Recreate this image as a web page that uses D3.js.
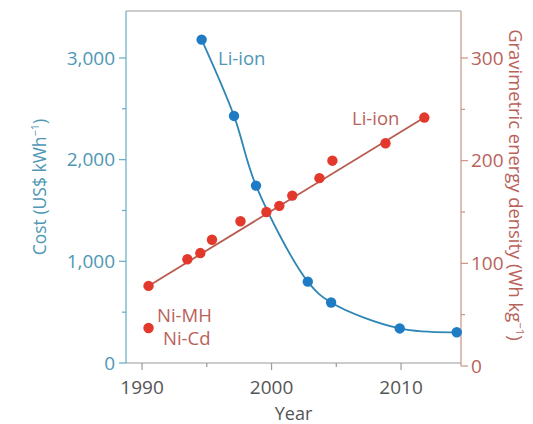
<!DOCTYPE html>
<html>
<head>
<meta charset="utf-8">
<script src="https://cdn.jsdelivr.net/npm/d3@7"></script>
<style>
  body { margin: 0; background: #fff; }
  svg text { font-family: "Open Sans", sans-serif; }
  .tick-label { font-size: 19px; }
</style>
</head>
<body>
<div id="chart"></div>
<script>

  // Li-ion cost (left axis, US$ per kWh)
  var costYears = [1994.6, 1997.1, 1998.8, 2002.8, 2004.6, 2009.9, 2014.3];
  var costValues = [3180, 2430, 1745, 800, 595, 340, 302];

  // Li-ion gravimetric energy density (right axis, Wh per kg)
  var densityYears = [1990.5, 1993.5, 1994.5, 1995.4, 1997.6, 1999.6, 2000.6, 2001.6, 2003.7, 2004.7, 2008.8, 2011.8];
  var densityValues = [78, 104, 110, 123, 141, 150, 156, 166, 183, 200, 217, 242];

  // Ni-MH / Ni-Cd point
  var nickelYears = [1990.5];
  var nickelValues = [37];

  var xTicks = [1990, 2000, 2010];
  var xMinorTicks = [1995, 2005];
  var leftTicks = [0, 1000, 2000, 3000];
  var leftMinorTicks = [500, 1500, 2500];
  var rightTicks = [0, 100, 200, 300];
  var rightMinorTicks = [50, 150, 250];

  var width = 533, height = 424;
  var plotL = 126, plotR = 461, plotT = 11, plotB = 363;

  var blue = "#1f7cc4", blueLine = "#2e86b5", blueText = "#4e97b5", blueAxis = "#63abc4";
  var red = "#e2392c", redLine = "#b85b50", redText = "#b9625a", redAxis = "#c99282";
  var grey = "#555", frame = "#9a9a9a";

  var x = d3.scaleLinear().domain([1988.76, 2014.63]).range([plotL, plotR]);
  var yLeft = d3.scaleLinear().domain([0, 3462]).range([plotB, plotT]);
  var yRight = d3.scaleLinear().domain([0, 345.8]).range([366, plotT]);

  var svg = d3.select("#chart").append("svg")
    .attr("width", width)
    .attr("height", height);

  // frame top
  svg.append("line")
    .attr("x1", plotL).attr("x2", plotR).attr("y1", plotT).attr("y2", plotT)
    .attr("stroke", frame).attr("stroke-width", 1.2);

  // bottom axis
  var gx = svg.append("g").attr("transform", "translate(0," + plotB + ")");
  gx.append("line").attr("x1", plotL).attr("x2", plotR)
    .attr("stroke", frame).attr("stroke-width", 1.2);
  gx.selectAll(".maj").data(xTicks).enter().append("line")
    .attr("x1", function (d) { return x(d); }).attr("x2", function (d) { return x(d); })
    .attr("y1", 0).attr("y2", 7)
    .attr("stroke", frame).attr("stroke-width", 1.2);
  gx.selectAll(".min").data(xMinorTicks).enter().append("line")
    .attr("x1", function (d) { return x(d); }).attr("x2", function (d) { return x(d); })
    .attr("y1", 0).attr("y2", 4)
    .attr("stroke", frame).attr("stroke-width", 1.2);
  gx.selectAll("text").data(xTicks).enter().append("text")
    .attr("class", "tick-label")
    .attr("x", function (d) { return x(d); })
    .attr("y", 31)
    .attr("text-anchor", "middle")
    .attr("fill", grey)
    .text(function (d) { return d; });

  svg.append("text")
    .attr("x", (plotL + plotR) / 2).attr("y", 420)
    .attr("text-anchor", "middle")
    .attr("font-size", 18)
    .attr("fill", grey)
    .text("Year");

  // left axis
  var gl = svg.append("g");
  gl.append("line").attr("x1", plotL).attr("x2", plotL).attr("y1", plotT).attr("y2", plotB)
    .attr("stroke", blueAxis).attr("stroke-width", 1.2);
  gl.selectAll(".maj").data(leftTicks).enter().append("line")
    .attr("x1", plotL - 7).attr("x2", plotL)
    .attr("y1", function (d) { return yLeft(d); }).attr("y2", function (d) { return yLeft(d); })
    .attr("stroke", blueAxis).attr("stroke-width", 1.2);
  gl.selectAll(".min").data(leftMinorTicks).enter().append("line")
    .attr("x1", plotL - 4).attr("x2", plotL)
    .attr("y1", function (d) { return yLeft(d); }).attr("y2", function (d) { return yLeft(d); })
    .attr("stroke", blueAxis).attr("stroke-width", 1.2);
  gl.selectAll("text").data(leftTicks).enter().append("text")
    .attr("class", "tick-label")
    .attr("x", plotL - 11)
    .attr("y", function (d) { return yLeft(d); })
    .attr("dy", "0.35em")
    .attr("text-anchor", "end")
    .attr("fill", blueText)
    .text(function (d) { return d3.format(",")(d); });

  var lt = svg.append("text")
    .attr("transform", "translate(46," + ((plotT + plotB) / 2) + ") rotate(-90)")
    .attr("text-anchor", "middle")
    .attr("font-size", 17.5)
    .attr("fill", blueText);
  lt.append("tspan").text("Cost (US$ kWh");
  lt.append("tspan").attr("dy", -7).attr("font-size", 11).text("\u22121");
  lt.append("tspan").attr("dy", 7).text(")");

  // right axis
  var gr = svg.append("g");
  gr.append("line").attr("x1", plotR).attr("x2", plotR).attr("y1", plotT).attr("y2", yRight(0))
    .attr("stroke", redAxis).attr("stroke-width", 1.2);
  gr.selectAll(".maj").data(rightTicks).enter().append("line")
    .attr("x1", plotR).attr("x2", plotR + 7)
    .attr("y1", function (d) { return yRight(d); }).attr("y2", function (d) { return yRight(d); })
    .attr("stroke", redAxis).attr("stroke-width", 1.2);
  gr.selectAll(".min").data(rightMinorTicks).enter().append("line")
    .attr("x1", plotR).attr("x2", plotR + 4)
    .attr("y1", function (d) { return yRight(d); }).attr("y2", function (d) { return yRight(d); })
    .attr("stroke", redAxis).attr("stroke-width", 1.2);
  gr.selectAll("text").data(rightTicks).enter().append("text")
    .attr("class", "tick-label")
    .attr("x", plotR + 10)
    .attr("y", function (d) { return yRight(d); })
    .attr("dy", "0.35em")
    .attr("fill", redText)
    .text(function (d) { return d; });

  var rt = svg.append("text")
    .attr("transform", "translate(509," + ((plotT + plotB) / 2 - 2) + ") rotate(90)")
    .attr("text-anchor", "middle")
    .attr("font-size", 18.4)
    .attr("fill", redText);
  rt.append("tspan").text("Gravimetric energy density (Wh kg");
  rt.append("tspan").attr("dy", -7).attr("font-size", 11.5).text("\u22121");
  rt.append("tspan").attr("dy", 7).text(")");

  // density trend line (first to last point)
  var densityPts = densityYears.map(function (d, i) { return { x: d, y: densityValues[i] }; });
  var trend = [densityPts[0], densityPts[densityPts.length - 1]];
  svg.append("path")
    .datum(trend)
    .attr("fill", "none")
    .attr("stroke", redLine)
    .attr("stroke-width", 1.8)
    .attr("d", d3.line()
      .x(function (d) { return x(d.x); })
      .y(function (d) { return yRight(d.y); }));

  // cost curve
  var costPts = costYears.map(function (d, i) { return { x: d, y: costValues[i] }; });
  svg.append("path")
    .datum(costPts)
    .attr("fill", "none")
    .attr("stroke", blueLine)
    .attr("stroke-width", 1.8)
    .attr("d", d3.line()
      .x(function (d) { return x(d.x); })
      .y(function (d) { return yLeft(d.y); })
      .curve(d3.curveCatmullRom.alpha(0.5)));

  svg.selectAll(".dens").data(densityPts).enter().append("circle")
    .attr("cx", function (d) { return x(d.x); })
    .attr("cy", function (d) { return yRight(d.y); })
    .attr("r", 5.2)
    .attr("fill", red);

  svg.selectAll(".nick").data(nickelYears).enter().append("circle")
    .attr("cx", function (d) { return x(d); })
    .attr("cy", function (d, i) { return yRight(nickelValues[i]); })
    .attr("r", 5.2)
    .attr("fill", red);

  svg.selectAll(".cost").data(costPts).enter().append("circle")
    .attr("cx", function (d) { return x(d.x); })
    .attr("cy", function (d) { return yLeft(d.y); })
    .attr("r", 5.2)
    .attr("fill", blue);

  // labels
  svg.append("text").attr("x", 218).attr("y", 65)
    .attr("font-size", 18.5).attr("fill", blueText).text("Li-ion");
  svg.append("text").attr("x", 352).attr("y", 125)
    .attr("font-size", 18.5).attr("fill", redText).text("Li-ion");
  svg.append("text").attr("x", 157).attr("y", 322)
    .attr("font-size", 18.5).attr("fill", redText).text("Ni-MH");
  svg.append("text").attr("x", 163).attr("y", 345)
    .attr("font-size", 18.5).attr("fill", redText).text("Ni-Cd");

</script>
</body>
</html>
